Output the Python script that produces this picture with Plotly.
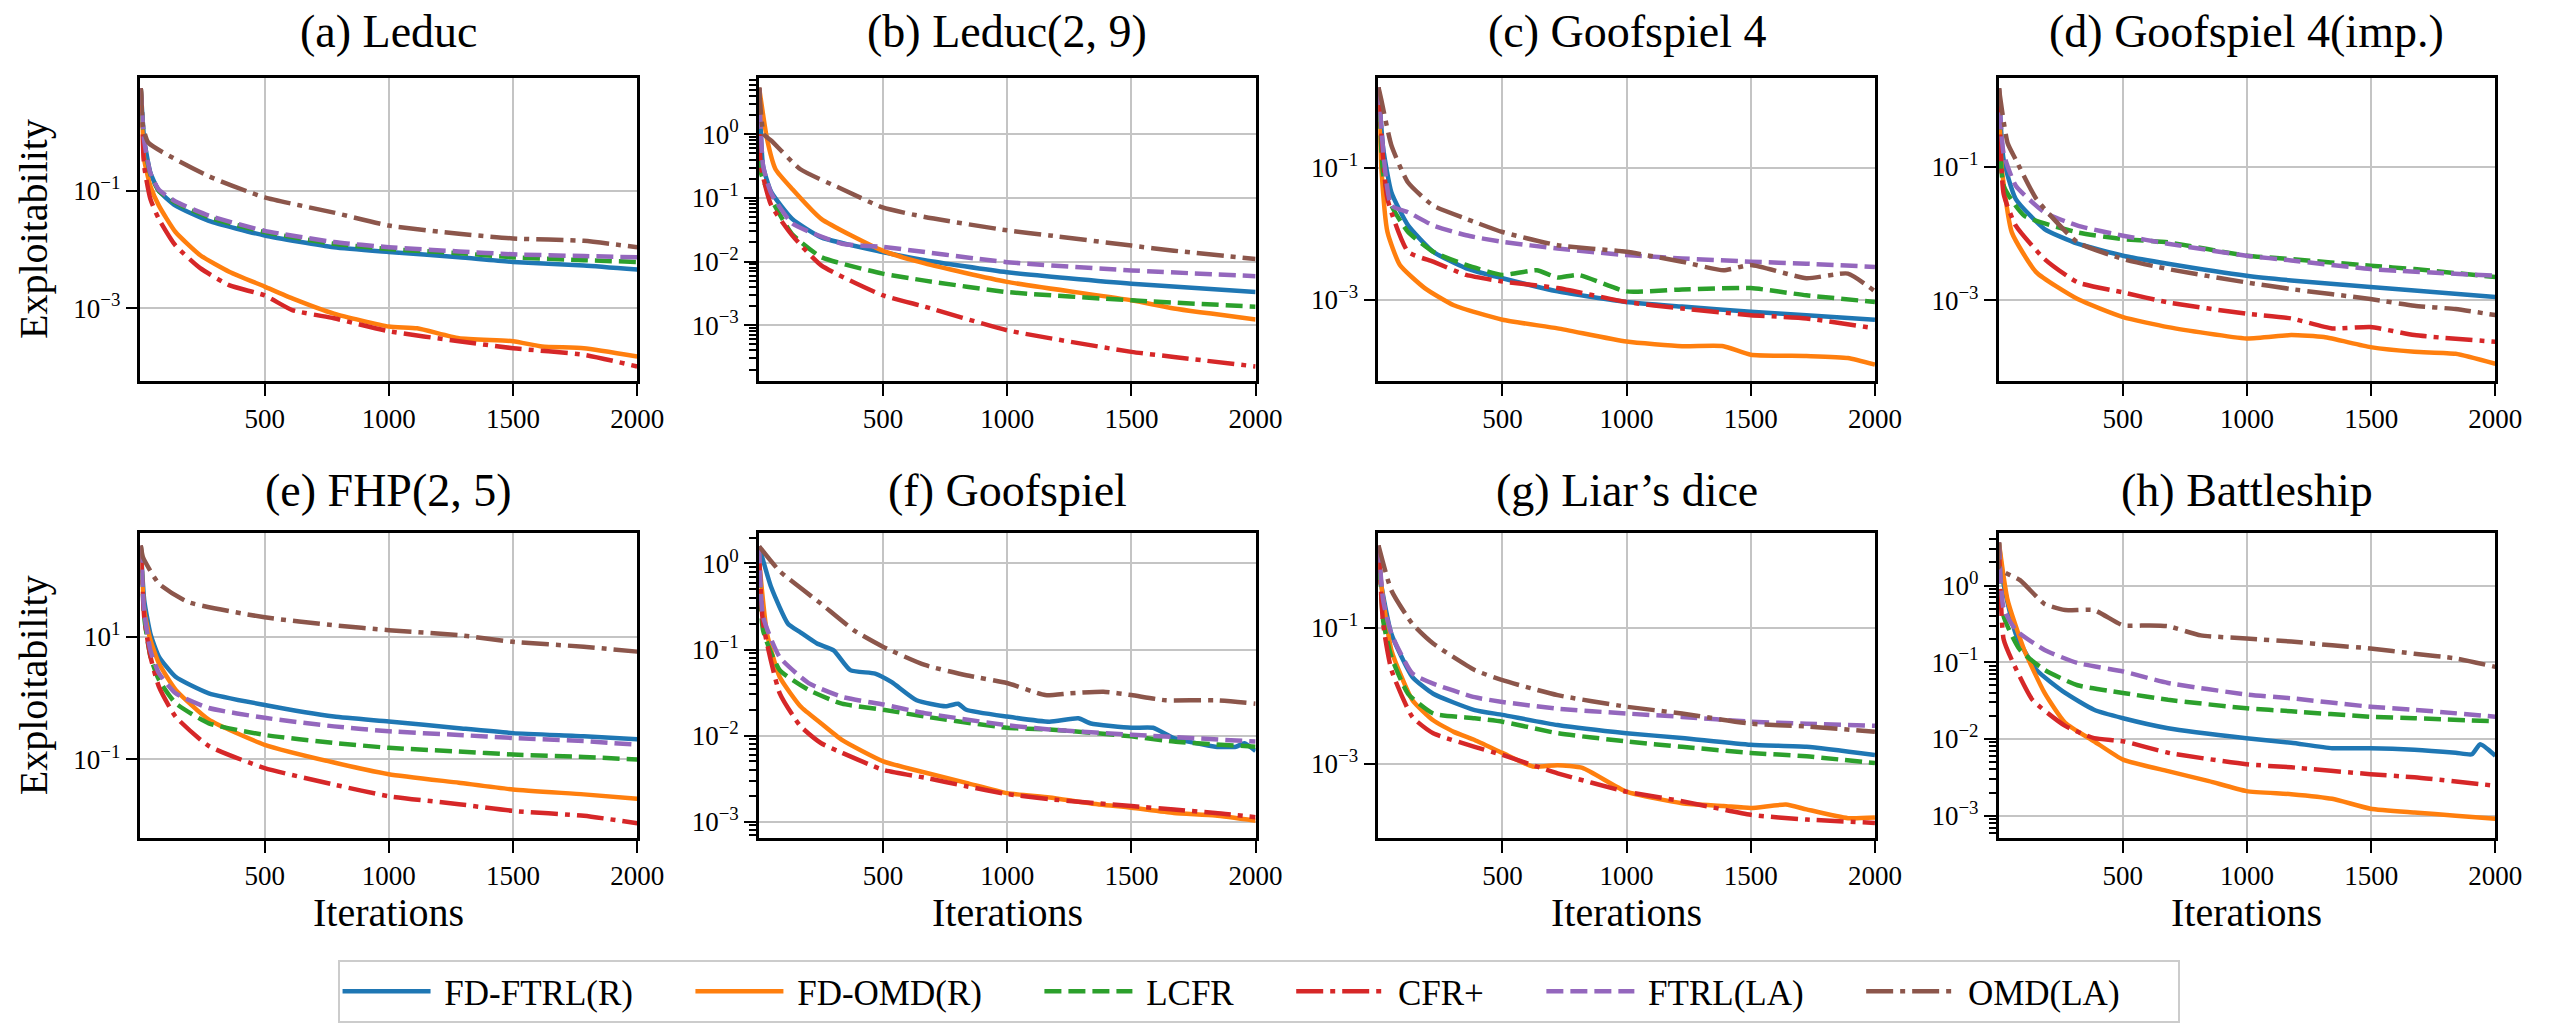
import math
import plotly.graph_objects as go

# ---------------- data ----------------
SERIES = ["FD-FTRL(R)", "FD-OMD(R)", "LCFR", "CFR+", "FTRL(LA)", "OMD(LA)"]
COLORS = ["#1f77b4", "#ff7f0e", "#2ca02c", "#d62728", "#9467bd", "#8c564b"]
DASHES = ["solid", "solid", "17px,7px", "27px,7px,5px,7px", "17px,7px", "27px,7px,5px,7px"]
TITLES = ["(a) Leduc", "(b) Leduc(2, 9)", "(c) Goofspiel 4", "(d) Goofspiel 4(imp.)",
          "(e) FHP(2, 5)", "(f) Goofspiel", "(g) Liar’s dice", "(h) Battleship"]
X_TICKS = [500, 1000, 1500, 2000]

# exploitability readings: iterations (X) and log10(exploitability) (LOG), one list per series
A_X = [[1, 15, 40, 74, 141, 275, 500, 779, 1000, 1282, 1500, 1785, 2000],
       [1, 15, 40, 74, 141, 242, 359, 500, 611, 779, 1000, 1114, 1282, 1500, 1617, 1785, 2000],
       [1, 15, 40, 74, 141, 275, 500, 779, 1000, 1282, 1500, 1785, 2000],
       [1, 15, 40, 74, 141, 242, 359, 500, 611, 779, 1000, 1282, 1500, 1785, 2000],
       [1, 15, 40, 74, 141, 275, 500, 779, 1000, 1282, 1500, 1785, 2000],
       [1, 10, 32, 275, 500, 779, 1000, 1282, 1500, 1785, 2000]]
A_LOG = [[0.75, -0.13, -0.69, -1.0, -1.25, -1.51, -1.76, -1.96, -2.04, -2.13, -2.21, -2.27, -2.34],
         [0.75, -0.47, -0.92, -1.25, -1.70, -2.10, -2.38, -2.63, -2.83, -3.09, -3.31, -3.34, -3.51, -3.56, -3.65, -3.68, -3.82],
         [0.75, -0.20, -0.72, -1.0, -1.20, -1.45, -1.70, -1.90, -1.99, -2.06, -2.13, -2.18, -2.21],
         [0.75, -0.58, -1.14, -1.48, -1.93, -2.32, -2.61, -2.78, -3.03, -3.17, -3.39, -3.56, -3.68, -3.79, -3.99],
         [0.75, -0.15, -0.70, -0.98, -1.18, -1.42, -1.68, -1.87, -1.96, -2.03, -2.08, -2.11, -2.13],
         [0.75, 0.10, -0.18, -0.75, -1.11, -1.37, -1.59, -1.73, -1.81, -1.85, -1.96]]

B_X = [[1, 17, 50, 134, 251, 498, 668, 999, 1500, 2000],
       [1, 33, 67, 134, 251, 498, 668, 999, 1500, 1671, 2000],
       [1, 8, 50, 134, 251, 498, 668, 999, 1500, 2000],
       [1, 8, 50, 134, 251, 498, 668, 999, 1500, 1671, 2000],
       [1, 17, 50, 134, 334, 498, 999, 1500, 2000],
       [1, 20, 50, 167, 334, 498, 668, 999, 1170, 1500, 1671, 2000]]
B_LOG = [[0.73, -0.50, -0.91, -1.33, -1.62, -1.85, -1.98, -2.17, -2.35, -2.48],
         [0.73, -0.08, -0.55, -0.86, -1.33, -1.83, -2.03, -2.32, -2.61, -2.74, -2.91],
         [0.73, -0.60, -1.02, -1.57, -1.93, -2.19, -2.30, -2.48, -2.61, -2.71],
         [0.73, -0.50, -1.12, -1.59, -2.06, -2.53, -2.71, -3.08, -3.42, -3.50, -3.65],
         [0.73, -0.50, -0.93, -1.40, -1.72, -1.77, -2.01, -2.14, -2.23],
         [0.73, 0.0, -0.10, -0.55, -0.86, -1.15, -1.30, -1.51, -1.59, -1.75, -1.83, -1.96]]

C_X = [[1, 20, 53, 120, 221, 354, 500, 722, 999, 1223, 1500, 1724, 2000],
       [1, 12, 37, 87, 187, 304, 500, 722, 999, 1223, 1390, 1500, 1724, 1891, 2000],
       [1, 20, 53, 120, 221, 354, 500, 638, 722, 805, 999, 1223, 1500, 1724, 2000],
       [1, 37, 120, 221, 354, 500, 722, 999, 1223, 1500, 1724, 2000],
       [1, 53, 120, 221, 354, 500, 722, 999, 1223, 1500, 1724, 2000],
       [1, 12, 53, 120, 221, 354, 500, 722, 999, 1223, 1390, 1500, 1724, 1891, 2000]]
C_LOG = [[0.22, -0.71, -1.37, -1.87, -2.27, -2.52, -2.67, -2.87, -3.03, -3.10, -3.18, -3.23, -3.30],
         [0.22, -0.97, -1.97, -2.47, -2.82, -3.08, -3.30, -3.43, -3.63, -3.70, -3.70, -3.83, -3.85, -3.88, -3.98],
         [0.22, -1.10, -1.57, -1.97, -2.27, -2.47, -2.62, -2.55, -2.66, -2.62, -2.87, -2.84, -2.82, -2.93, -3.03],
         [0.22, -1.47, -2.27, -2.42, -2.62, -2.72, -2.82, -3.03, -3.13, -3.23, -3.28, -3.43],
         [0.22, -1.57, -1.67, -1.87, -2.02, -2.12, -2.22, -2.32, -2.37, -2.42, -2.45, -2.50],
         [0.22, 0.04, -0.66, -1.22, -1.57, -1.77, -1.97, -2.17, -2.27, -2.42, -2.55, -2.47, -2.67, -2.60, -2.87]]

D_X = [[1, 20, 69, 185, 318, 501, 682, 998, 1178, 1497, 1674, 2000],
       [1, 12, 53, 152, 318, 501, 682, 998, 1178, 1310, 1497, 1674, 1840, 2000],
       [1, 20, 103, 318, 501, 682, 998, 1178, 1497, 1674, 2000],
       [1, 20, 69, 185, 318, 501, 682, 998, 1178, 1343, 1497, 1674, 2000],
       [1, 20, 69, 185, 318, 501, 682, 998, 1178, 1497, 2000],
       [1, 36, 69, 152, 318, 501, 682, 998, 1178, 1497, 1674, 1840, 2000]]
D_LOG = [[0.18, -0.89, -1.48, -1.93, -2.15, -2.33, -2.45, -2.63, -2.70, -2.80, -2.85, -2.95],
         [0.18, -0.99, -1.98, -2.58, -2.98, -3.25, -3.40, -3.57, -3.52, -3.55, -3.70, -3.77, -3.80, -3.95],
         [0.18, -1.28, -1.73, -1.98, -2.08, -2.13, -2.33, -2.38, -2.48, -2.53, -2.65],
         [0.18, -1.40, -1.88, -2.38, -2.73, -2.88, -3.03, -3.20, -3.27, -3.42, -3.40, -3.52, -3.62],
         [0.18, -0.80, -1.28, -1.68, -1.88, -2.03, -2.15, -2.33, -2.40, -2.53, -2.63],
         [0.18, -0.64, -0.89, -1.48, -2.13, -2.38, -2.53, -2.73, -2.83, -2.98, -3.08, -3.13, -3.22]]

E_X = [[1, 15, 40, 74, 141, 275, 500, 779, 1000, 1282, 1500, 1785, 2000],
       [1, 15, 40, 74, 141, 275, 500, 779, 1000, 1282, 1500, 1785, 2000],
       [1, 15, 40, 74, 141, 275, 500, 779, 1000, 1282, 1500, 1785, 2000],
       [1, 15, 40, 74, 141, 275, 500, 779, 1000, 1282, 1500, 1785, 2000],
       [1, 15, 40, 74, 141, 275, 500, 779, 1000, 1282, 1500, 1785, 2000],
       [1, 10, 74, 191, 500, 779, 1000, 1282, 1500, 1785, 2000]]
E_LOG = [[2.49, 1.60, 1.05, 0.68, 0.35, 0.08, -0.11, -0.30, -0.38, -0.49, -0.57, -0.62, -0.67],
         [2.49, 1.43, 0.95, 0.57, 0.14, -0.35, -0.76, -1.05, -1.24, -1.38, -1.49, -1.57, -1.64],
         [2.49, 1.32, 0.68, 0.30, -0.08, -0.41, -0.60, -0.73, -0.81, -0.87, -0.92, -0.96, -1.00],
         [2.49, 1.32, 0.68, 0.19, -0.30, -0.78, -1.14, -1.41, -1.60, -1.73, -1.84, -1.92, -2.04],
         [2.49, 1.40, 0.78, 0.41, 0.08, -0.16, -0.32, -0.46, -0.54, -0.60, -0.65, -0.70, -0.76],
         [2.49, 2.30, 1.87, 1.57, 1.32, 1.19, 1.11, 1.03, 0.92, 0.84, 0.76]]

F_X = [[1, 50, 117, 167, 234, 301, 368, 468, 535, 635, 752, 802, 835, 999, 1170, 1286, 1337, 1500, 1587, 1671, 1838, 1921, 1955, 2000],
       [1, 33, 84, 167, 251, 334, 501, 668, 835, 999, 1170, 1337, 1500, 1671, 1838, 2000],
       [1, 17, 84, 200, 334, 501, 668, 999, 1170, 1500, 1671, 2000],
       [1, 17, 84, 167, 251, 334, 501, 668, 835, 999, 1170, 1500, 1671, 1838, 2000],
       [1, 17, 84, 200, 334, 501, 668, 999, 1170, 1500, 2000],
       [1, 84, 251, 384, 501, 668, 835, 999, 1153, 1250, 1387, 1500, 1637, 1838, 2000]]
F_LOG = [[0.20, -0.28, -0.70, -0.80, -0.93, -1.01, -1.24, -1.28, -1.38, -1.59, -1.66, -1.63, -1.70, -1.78, -1.84, -1.80, -1.86, -1.91, -1.91, -2.03, -2.13, -2.13, -2.09, -2.18],
         [0.03, -0.82, -1.32, -1.66, -1.86, -2.05, -2.30, -2.43, -2.55, -2.67, -2.72, -2.79, -2.84, -2.90, -2.93, -2.99],
         [0.20, -0.78, -1.24, -1.47, -1.63, -1.70, -1.78, -1.91, -1.93, -2.01, -2.07, -2.13],
         [0.10, -0.70, -1.51, -1.89, -2.09, -2.20, -2.40, -2.49, -2.59, -2.68, -2.74, -2.82, -2.86, -2.90, -2.95],
         [0.20, -0.62, -1.09, -1.39, -1.55, -1.64, -1.74, -1.88, -1.93, -1.99, -2.07],
         [0.20, -0.09, -0.47, -0.78, -0.97, -1.18, -1.30, -1.39, -1.53, -1.51, -1.49, -1.53, -1.59, -1.59, -1.63]]

G_X = [[1, 12, 53, 137, 221, 388, 500, 722, 999, 1223, 1500, 1724, 2000],
       [1, 12, 53, 137, 221, 304, 388, 500, 622, 722, 822, 999, 1223, 1390, 1500, 1641, 1724, 1891, 2000],
       [1, 20, 53, 120, 221, 388, 500, 722, 999, 1223, 1500, 1724, 2000],
       [1, 20, 53, 137, 221, 388, 500, 722, 999, 1223, 1500, 1724, 2000],
       [1, 20, 53, 137, 221, 388, 500, 722, 999, 1223, 1500, 1724, 2000],
       [1, 53, 137, 221, 388, 500, 722, 999, 1223, 1500, 1724, 2000]]
G_LOG = [[0.21, -0.36, -1.09, -1.72, -1.97, -2.21, -2.28, -2.43, -2.55, -2.62, -2.72, -2.75, -2.87],
         [0.21, -0.36, -1.33, -2.06, -2.36, -2.53, -2.65, -2.84, -3.04, -3.02, -3.06, -3.41, -3.58, -3.62, -3.65, -3.60, -3.67, -3.80, -3.79],
         [0.21, -0.90, -1.43, -1.97, -2.26, -2.33, -2.38, -2.55, -2.67, -2.75, -2.84, -2.89, -2.99],
         [0.21, -0.95, -1.62, -2.31, -2.55, -2.75, -2.87, -3.14, -3.41, -3.55, -3.75, -3.82, -3.87],
         [0.21, -0.60, -1.09, -1.67, -1.82, -2.02, -2.09, -2.19, -2.26, -2.31, -2.38, -2.41, -2.44],
         [0.21, -0.45, -0.94, -1.23, -1.62, -1.77, -1.99, -2.16, -2.26, -2.41, -2.45, -2.53]]

H_X = [[1, 20, 69, 152, 268, 384, 501, 682, 998, 1178, 1343, 1497, 1674, 1840, 1906, 1939, 2000],
       [1, 36, 103, 185, 268, 384, 501, 682, 847, 998, 1178, 1343, 1497, 1674, 1840, 2000],
       [1, 20, 86, 185, 318, 501, 682, 998, 1178, 1497, 1674, 2000],
       [1, 20, 53, 136, 268, 384, 501, 682, 998, 1178, 1497, 1674, 2000],
       [1, 20, 69, 185, 318, 501, 682, 998, 1178, 1497, 1674, 2000],
       [1, 3, 86, 185, 268, 384, 501, 599, 682, 814, 998, 1178, 1343, 1497, 1674, 1840, 2000]]
H_LOG = [[0.56, 0.02, -0.63, -1.10, -1.40, -1.62, -1.73, -1.86, -1.99, -2.05, -2.12, -2.12, -2.14, -2.18, -2.20, -2.07, -2.22],
         [0.56, -0.19, -0.84, -1.40, -1.79, -2.03, -2.27, -2.42, -2.55, -2.68, -2.72, -2.78, -2.91, -2.96, -3.00, -3.04],
         [0.56, -0.40, -0.84, -1.10, -1.30, -1.40, -1.49, -1.60, -1.64, -1.71, -1.73, -1.77],
         [0.56, -0.70, -0.97, -1.49, -1.83, -1.99, -2.03, -2.18, -2.33, -2.37, -2.46, -2.50, -2.61],
         [0.56, -0.30, -0.58, -0.84, -1.01, -1.12, -1.27, -1.42, -1.47, -1.58, -1.62, -1.71],
         [0.56, 0.22, 0.07, -0.24, -0.32, -0.32, -0.52, -0.52, -0.53, -0.65, -0.69, -0.73, -0.78, -0.82, -0.89, -0.95, -1.06]]

PANEL_X = [A_X, B_X, C_X, D_X, E_X, F_X, G_X, H_X]
PANEL_LOG = [A_LOG, B_LOG, C_LOG, D_LOG, E_LOG, F_LOG, G_LOG, H_LOG]

# y-axis extent (log10) and labelled decades per panel
Y_RANGES = [[-4.24, 0.93], [-3.88, 0.89], [-4.23, 0.37], [-4.21, 0.34],
            [-2.28, 2.69], [-3.19, 0.35], [-4.09, 0.39], [-3.29, 0.68]]
Y_DECADES = [[-1, -3], [0, -1, -2, -3], [-1, -3], [-1, -3],
             [1, -1], [0, -1, -2, -3], [-1, -3], [0, -1, -2, -3]]
MINOR_PANELS = [1, 5, 7]

# ---------------- layout geometry (pixels) ----------------
W, H = 2554, 1023
LEFTS = [142, 767, 1393, 2020]
PW = 502
ROWS = [(78, 383), (536, 842)]
FONT = "Liberation Serif"
NB = "\u00a0"


def px_x(p):
    return p / W


def px_y(p):
    return 1 - p / H


fig = go.Figure()

for i in range(8):
    r, c = divmod(i, 4)
    ax = "" if i == 0 else str(i + 1)
    xa = "x" + ax
    ya = "y" + ax
    for s in range(6):
        fig.add_trace(go.Scatter(
            x=PANEL_X[i][s], y=[10 ** v for v in PANEL_LOG[i][s]],
            mode="lines", name=NB + SERIES[s] + NB * 6, legendgroup=SERIES[s],
            showlegend=(i == 0),
            line=dict(color=COLORS[s], width=4.5, dash=DASHES[s],
                      shape="spline", smoothing=0.5),
            xaxis=xa, yaxis=ya))

    top, bot = ROWS[r]
    common = dict(showline=True, linecolor="black", linewidth=2.5, mirror=True,
                  ticks="outside", ticklen=12, tickwidth=2, tickcolor="black",
                  showgrid=True, gridcolor="#c4c4c4", gridwidth=2, zeroline=False,
                  tickfont=dict(family=FONT, size=27, color="black"))
    xdef = dict(common, domain=[px_x(LEFTS[c]), px_x(LEFTS[c] + PW)], range=[0, 2000],
                tickmode="array", tickvals=X_TICKS, ticktext=[str(t) for t in X_TICKS],
                anchor=ya)
    dec = Y_DECADES[i]
    ydef = dict(common, domain=[px_y(bot), px_y(top)], type="log", range=Y_RANGES[i],
                tickmode="array", tickvals=[10 ** d for d in dec],
                ticktext=["10<sup>%s</sup>" % (str(d).replace("-", "−")) for d in dec],
                anchor=xa)
    if i in MINOR_PANELS:
        lo, hi = Y_RANGES[i]
        mv = [k * 10 ** e for e in range(-5, 3) for k in range(2, 10)
              if lo <= math.log10(k * 10 ** e) <= hi]
        ydef["minor"] = dict(ticks="outside", ticklen=7, tickwidth=1.5, tickcolor="black",
                             tickmode="array", tickvals=mv, showgrid=False)
    fig.layout["xaxis" + ax] = xdef
    fig.layout["yaxis" + ax] = ydef

    cx = px_x(LEFTS[c] + PW / 2)
    fig.add_annotation(text=TITLES[i], x=cx, y=px_y(32 if r == 0 else 493),
                       xref="paper", yref="paper", showarrow=False,
                       xanchor="center", yanchor="middle",
                       font=dict(family=FONT, size=46, color="black"))
    if c == 0:
        fig.add_annotation(text="Exploitability", x=px_x(34), y=px_y((top + bot) / 2),
                           xref="paper", yref="paper", showarrow=False, textangle=-90,
                           xanchor="center", yanchor="middle",
                           font=dict(family=FONT, size=40, color="black"))
    if r == 1:
        fig.add_annotation(text="Iterations", x=cx, y=px_y(917),
                           xref="paper", yref="paper", showarrow=False,
                           xanchor="center", yanchor="middle",
                           font=dict(family=FONT, size=40, color="black"))

fig.update_layout(
    width=W, height=H, margin=dict(l=0, r=0, t=0, b=0),
    paper_bgcolor="white", plot_bgcolor="white",
    legend=dict(orientation="h", x=px_x(1272), xanchor="center", y=px_y(965), yanchor="top",
                font=dict(family=FONT, size=35, color="black"),
                bordercolor="#cccccc", borderwidth=2, itemwidth=88,
                bgcolor="white", tracegroupgap=0),
)

fig.write_html("out.html")
